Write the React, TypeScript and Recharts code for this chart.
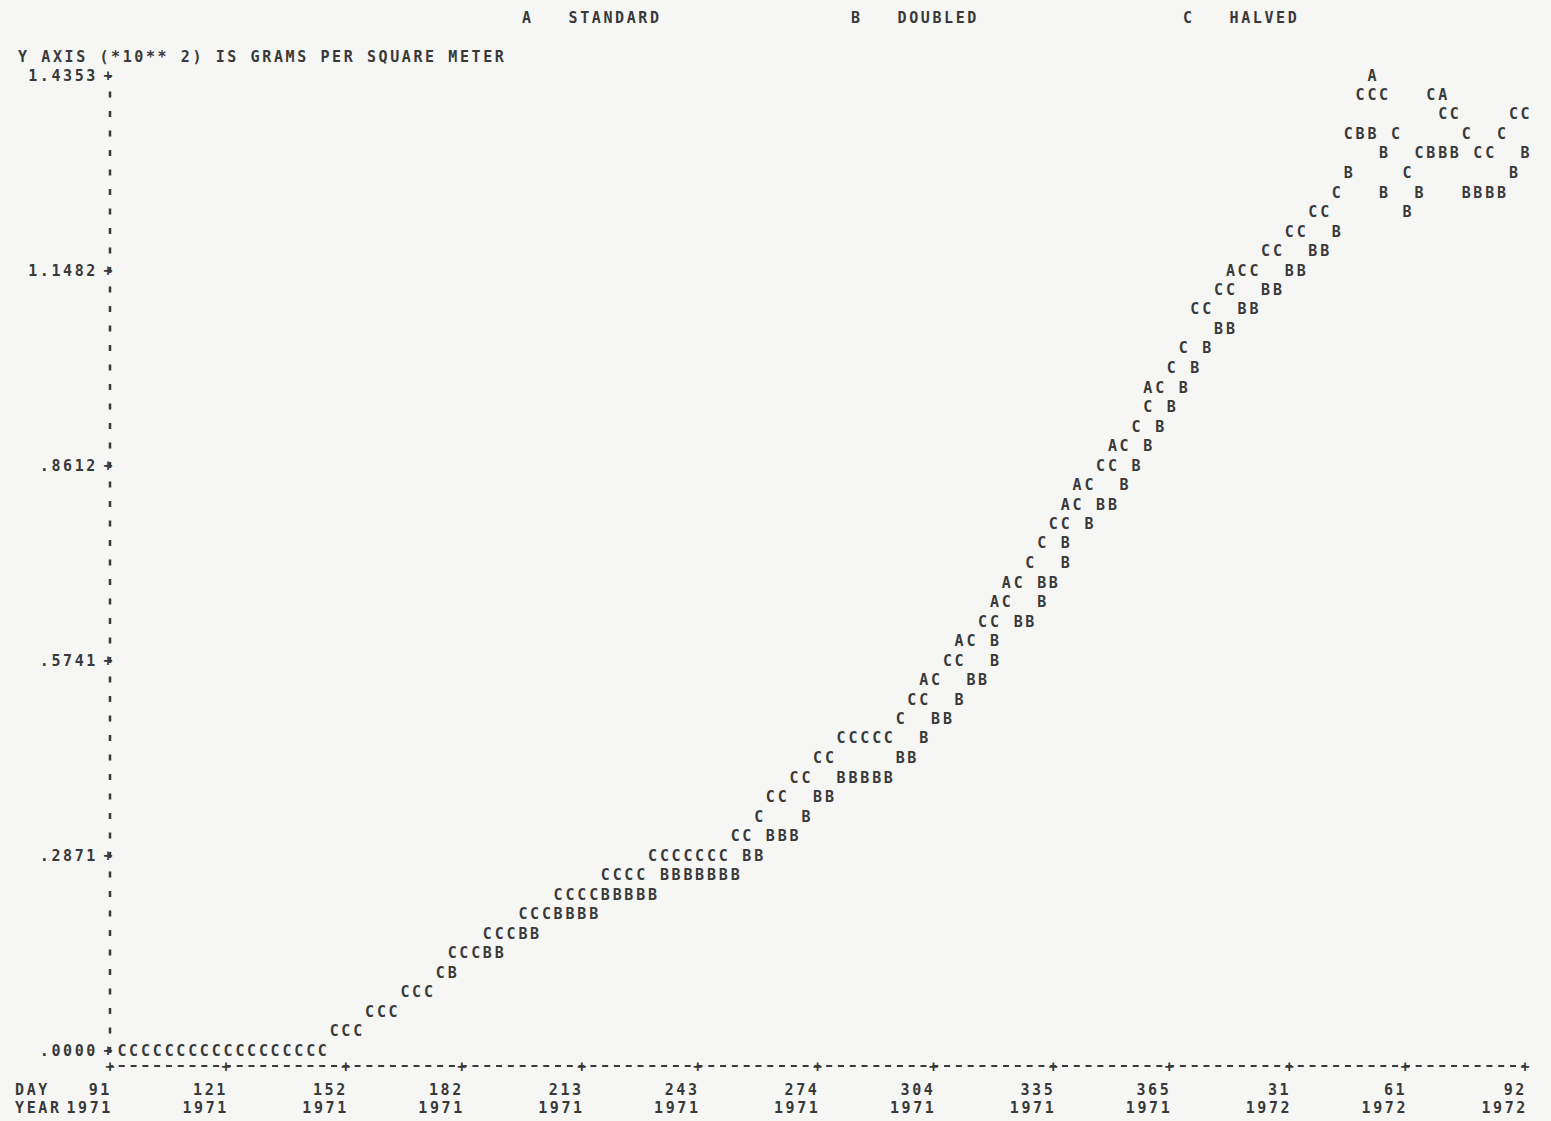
import { ScatterChart, Scatter, XAxis, YAxis } from "recharts";

const MONO = "'DejaVu Sans Mono', 'Liberation Mono', monospace";
const INK = "#393939";

// axis ticks as printed
const xTickDays = [91, 121, 152, 182, 213, 243, 274, 304, 335, 365, 396, 426, 457];
const xDayLabels = ["91", "121", "152", "182", "213", "243", "274", "304", "335", "365", "31", "61", "92"];
const xYearLabels = ["1971", "1971", "1971", "1971", "1971", "1971", "1971", "1971", "1971", "1971", "1972", "1972", "1972"];
const yTicks = [0, 0.2871, 0.5741, 0.8612, 1.1482, 1.4353];
const yTickLabels = [".0000", ".2871", ".5741", ".8612", "1.1482", "1.4353"];

const seriesSymbols = ["A", "B", "C"];
const seriesNames = ["STANDARD", "DOUBLED", "HALVED"];

// [day, value (*10**2 g/m2)], only where the letter is visible
const standard: [number, number][] = [
  [301.5, 0.5455], [310.6, 0.6029], [319.8, 0.6603], [322.8, 0.689], [338.1, 0.8039],
  [341.1, 0.8326], [350.3, 0.89], [359.4, 0.9761], [380.8, 1.1484], [435.7, 1.4068],
  [417.4, 1.4355],
];

const doubled: [number, number][] = [
  [179.5, 0.1148],
  [188.6, 0.1436], [191.7, 0.1436],
  [197.8, 0.1723], [200.8, 0.1723],
  [206.9, 0.201], [210.0, 0.201], [213.0, 0.201], [216.1, 0.201],
  [219.1, 0.2297], [222.2, 0.2297], [225.2, 0.2297], [228.3, 0.2297], [231.3, 0.2297],
  [234.4, 0.2584], [237.4, 0.2584], [240.5, 0.2584], [243.5, 0.2584], [246.6, 0.2584], [249.6, 0.2584], [252.7, 0.2584],
  [255.7, 0.2871], [258.8, 0.2871],
  [261.8, 0.3158], [264.9, 0.3158], [267.9, 0.3158],
  [271.0, 0.3445],
  [274.0, 0.3732], [277.1, 0.3732],
  [280.1, 0.4019], [283.2, 0.4019], [286.2, 0.4019], [289.3, 0.4019], [292.3, 0.4019],
  [295.4, 0.4307], [298.4, 0.4307],
  [301.5, 0.4594],
  [304.5, 0.4881], [307.6, 0.4881],
  [310.6, 0.5168],
  [313.7, 0.5455], [316.7, 0.5455],
  [319.8, 0.5742],
  [319.8, 0.6029],
  [325.9, 0.6316], [328.9, 0.6316],
  [332.0, 0.6603],
  [332.0, 0.689], [335.0, 0.689],
  [338.1, 0.7178],
  [338.1, 0.7465],
  [344.2, 0.7752],
  [347.2, 0.8039], [350.3, 0.8039],
  [353.3, 0.8326],
  [356.4, 0.8613],
  [359.4, 0.89],
  [362.5, 0.9187],
  [365.5, 0.9474],
  [368.6, 0.9761],
  [371.6, 1.0049],
  [374.7, 1.0336],
  [377.7, 1.0623], [380.8, 1.0623],
  [383.8, 1.091], [386.9, 1.091],
  [389.9, 1.1197], [393.0, 1.1197],
  [396.0, 1.1484], [399.1, 1.1484],
  [402.1, 1.1771], [405.2, 1.1771],
  [408.2, 1.2058],
  [426.5, 1.2345],
  [420.4, 1.2632], [429.6, 1.2632], [441.8, 1.2632], [444.8, 1.2632], [447.9, 1.2632], [450.9, 1.2632],
  [411.3, 1.292], [454.0, 1.292],
  [420.4, 1.3207], [432.6, 1.3207], [435.7, 1.3207], [438.7, 1.3207], [457.0, 1.3207],
  [414.3, 1.3494], [417.4, 1.3494],
];

const halved: [number, number][] = [
  [94.1, 0], [97.1, 0], [100.2, 0], [103.2, 0], [106.3, 0], [109.3, 0], [112.4, 0], [115.4, 0], [118.5, 0],
  [121.5, 0], [124.6, 0], [127.6, 0], [130.7, 0], [133.7, 0], [136.8, 0], [139.8, 0], [142.9, 0], [145.9, 0],
  [149.0, 0.0287], [152.0, 0.0287], [155.1, 0.0287],
  [158.1, 0.0574], [161.2, 0.0574], [164.2, 0.0574],
  [167.3, 0.0861], [170.3, 0.0861], [173.4, 0.0861],
  [176.4, 0.1148],
  [179.5, 0.1436], [182.5, 0.1436], [185.6, 0.1436],
  [188.6, 0.1723], [191.7, 0.1723], [194.7, 0.1723],
  [197.8, 0.201], [200.8, 0.201], [203.9, 0.201],
  [206.9, 0.2297], [210.0, 0.2297], [213.0, 0.2297], [216.1, 0.2297],
  [219.1, 0.2584], [222.2, 0.2584], [225.2, 0.2584], [228.3, 0.2584],
  [231.3, 0.2871], [234.4, 0.2871], [237.4, 0.2871], [240.5, 0.2871], [243.5, 0.2871], [246.6, 0.2871], [249.6, 0.2871],
  [252.7, 0.3158], [255.7, 0.3158],
  [258.8, 0.3445],
  [261.8, 0.3732], [264.9, 0.3732],
  [267.9, 0.4019], [271.0, 0.4019],
  [274.0, 0.4307], [277.1, 0.4307],
  [280.1, 0.4594], [283.2, 0.4594], [286.2, 0.4594], [289.3, 0.4594], [292.3, 0.4594],
  [295.4, 0.4881],
  [298.4, 0.5168], [301.5, 0.5168],
  [304.5, 0.5455],
  [307.6, 0.5742], [310.6, 0.5742],
  [313.7, 0.6029],
  [316.7, 0.6316], [319.8, 0.6316],
  [322.8, 0.6603],
  [325.9, 0.689],
  [328.9, 0.7178],
  [332.0, 0.7465],
  [335.0, 0.7752], [338.1, 0.7752],
  [341.1, 0.8039],
  [344.2, 0.8326],
  [347.2, 0.8613], [350.3, 0.8613],
  [353.3, 0.89],
  [356.4, 0.9187],
  [359.4, 0.9474],
  [362.5, 0.9761],
  [365.5, 1.0049],
  [368.6, 1.0336],
  [371.6, 1.091], [374.7, 1.091],
  [377.7, 1.1197], [380.8, 1.1197],
  [383.8, 1.1484], [386.9, 1.1484],
  [389.9, 1.1771], [393.0, 1.1771],
  [396.0, 1.2058], [399.1, 1.2058],
  [402.1, 1.2345], [405.2, 1.2345],
  [408.2, 1.2632],
  [426.5, 1.292],
  [429.6, 1.3207], [444.8, 1.3207], [447.9, 1.3207],
  [411.3, 1.3494], [423.5, 1.3494], [441.8, 1.3494], [450.9, 1.3494],
  [435.7, 1.3781], [438.7, 1.3781], [454.0, 1.3781], [457.0, 1.3781],
  [414.3, 1.4068], [417.4, 1.4068], [420.4, 1.4068], [432.6, 1.4068],
];

const toRows = (pts: [number, number][]) => pts.map(([day, value]) => ({ day, value }));

const textStyle = {
  fontFamily: MONO,
  fontSize: 15,
  fontWeight: "bold" as const,
  fill: INK,
  letterSpacing: 2.6,
};

const glyph = (ch: string) => (props: any) => {
  if (props.cx == null || props.cy == null) return <g />;
  return (
    <text x={props.cx} y={props.cy} dy={5.5} textAnchor="middle" {...textStyle} letterSpacing={0}>
      {ch}
    </text>
  );
};

const XTick = (props: any) => {
  const { x, y, payload } = props;
  const i = xTickDays.indexOf(payload.value);
  return (
    <g>
      <text x={x} y={y} dy={5.5} textAnchor="middle" {...textStyle} letterSpacing={0}>+</text>
      <text x={x + 2} y={y + 29} textAnchor="end" {...textStyle}>{xDayLabels[i]}</text>
      <text x={x + 3} y={y + 47} textAnchor="end" {...textStyle}>{xYearLabels[i]}</text>
      {i === 0 && (
        <>
          <text x={15} y={y + 29} {...textStyle}>DAY</text>
          <text x={15} y={y + 47} {...textStyle}>YEAR</text>
        </>
      )}
    </g>
  );
};

const YTick = (props: any) => {
  const { x, y, payload } = props;
  const i = yTicks.indexOf(payload.value);
  return (
    <g>
      <text x={x - 2} y={y} dy={5.5} textAnchor="middle" {...textStyle} letterSpacing={0}>+</text>
      <text x={x - 12} y={y} dy={5.5} textAnchor="end" {...textStyle}>{yTickLabels[i]}</text>
    </g>
  );
};

const overlayText = {
  position: "absolute" as const,
  fontFamily: MONO,
  fontSize: 15,
  fontWeight: "bold" as const,
  color: INK,
  letterSpacing: 2.6,
  whiteSpace: "pre" as const,
  lineHeight: "18px",
};

const legendLeft = [522, 851, 1183];

export default function App() {
  const series = [standard, doubled, halved];
  return (
    <div
      style={{
        position: "absolute",
        left: 0,
        top: 0,
        width: 1551,
        height: 1121,
        background: "#f6f6f5",
        overflow: "hidden",
      }}
    >
      {seriesSymbols.map((s, i) => (
        <div key={s} style={{ ...overlayText, left: legendLeft[i], top: 9 }}>
          {`${s}   ${seriesNames[i]}`}
        </div>
      ))}
      <div style={{ ...overlayText, left: 18, top: 48 }}>
        Y AXIS (*10** 2) IS GRAMS PER SQUARE METER
      </div>
      <ScatterChart
        width={1551}
        height={1121}
        margin={{ top: 75, right: 26, bottom: 5, left: 10 }}
        style={{ position: "absolute", left: 0, top: 0 }}
      >
        <XAxis
          type="number"
          dataKey="day"
          domain={[91, 457]}
          ticks={xTickDays}
          interval={0}
          height={50}
          tickSize={0}
          tickMargin={0}
          tickLine={false}
          axisLine={{ stroke: INK, strokeWidth: 2, strokeDasharray: "6 5.79", strokeDashoffset: 3 }}
          tick={<XTick />}
        />
        <YAxis
          type="number"
          dataKey="value"
          domain={[-0.0235, 1.4353]}
          ticks={yTicks}
          interval={0}
          width={100}
          tickSize={0}
          tickMargin={0}
          tickLine={false}
          axisLine={{ stroke: INK, strokeWidth: 2.5, strokeDasharray: "6 13.5", strokeDashoffset: 3 }}
          tick={<YTick />}
        />
        {series.map((pts, i) => (
          <Scatter
            key={seriesSymbols[i]}
            name={seriesNames[i]}
            data={toRows(pts)}
            shape={glyph(seriesSymbols[i])}
            isAnimationActive={false}
          />
        ))}
      </ScatterChart>
    </div>
  );
}
